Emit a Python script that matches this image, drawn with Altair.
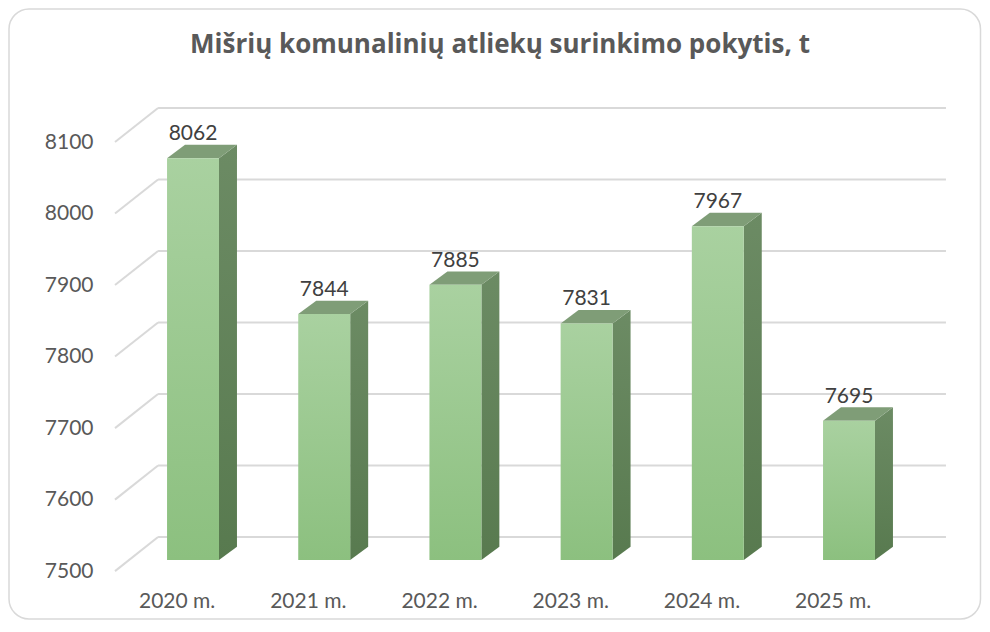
import altair as alt
import pandas as pd

# ---- data ----
years = ["2020 m.", "2021 m.", "2022 m.", "2023 m.", "2024 m.", "2025 m."]
values = [8062, 7844, 7885, 7831, 7967, 7695]
ticks = [7500, 7600, 7700, 7800, 7900, 8000, 8100]
title = "Mišrių komunalinių atliekų surinkimo pokytis, t"

# ---- 3D geometry constants (scale units) ----
BASE = 7500
HALF = 0.198      # half bar width
DX, DY = 0.137, 18.7          # bar depth
FRONT_DX, FRONT_DY = -0.106, -15.4   # front (axis) plane offset
BACK_DX, BACK_DY = 0.222, 32.2       # back wall offset
AXIS_L = -0.5945
WALL_R = 5.739
XDOM = [-0.709, 5.846]
YDOM = [7440, 8170]
FONT = "Lato"

xs = alt.Scale(domain=XDOM, nice=False, zero=False)
ys = alt.Scale(domain=YDOM, nice=False, zero=False)
yax = alt.Axis(values=ticks, format="d", labelOffset=11, ticks=False, domain=False,
               grid=False, labelPadding=7, labelFont=FONT, labelFontSize=21,
               labelColor="#595959", title=None)

n = len(years)
bars = pd.DataFrame({"year": years, "value": values, "i": list(range(n))})
bars["x0"] = bars.i - HALF
bars["x1"] = bars.i + HALF
bars["base"] = BASE
bars["xl"] = bars.i + FRONT_DX - 0.015

side_rows, top_rows = [], []
for i, (yr, v) in enumerate(zip(years, values)):
    side_rows.append({"year": yr, "x": i + HALF, "y": v, "y2": BASE})
    side_rows.append({"year": yr, "x": i + HALF + DX, "y": v + DY, "y2": BASE + DY})
    top_rows.append({"year": yr, "y": v, "x": i - HALF, "x2": i + HALF})
    top_rows.append({"year": yr, "y": v + DY, "x": i - HALF + DX, "x2": i + HALF + DX})
side = pd.DataFrame(side_rows)
top = pd.DataFrame(top_rows)

grid = pd.DataFrame({"t": ticks})
grid["yb"] = grid.t + BACK_DY
grid["yf"] = grid.t + FRONT_DY
grid["xb"] = AXIS_L + (BACK_DX - FRONT_DX)
grid["xf"] = AXIS_L
grid["xr"] = WALL_R

front_grad = alt.LinearGradient(
    gradient="linear", x1=0, x2=0, y1=0, y2=1,
    stops=[alt.GradientStop(color="#a9d1a0", offset=0),
           alt.GradientStop(color="#8cc07f", offset=1)])
side_grad = alt.LinearGradient(
    gradient="linear", x1=0, x2=0, y1=0, y2=1,
    stops=[alt.GradientStop(color="#6c8b64", offset=0),
           alt.GradientStop(color="#587a4f", offset=1)])

border = alt.Chart(pd.DataFrame({"a": [0]})).mark_rect(
    filled=False, stroke="#d9d9d9", strokeWidth=1.5, cornerRadius=20
).encode(x=alt.value(-91), x2=alt.value(880.5), y=alt.value(-72), y2=alt.value(538))

title_mark = alt.Chart(pd.DataFrame({"t": [title]})).mark_text(
    font="Open Sans", fontSize=26, fontWeight="bold", color="#595959",
    align="center", baseline="alphabetic"
).encode(x=alt.value(400), y=alt.value(-28), text="t:N")

back_lines = alt.Chart(grid).mark_rule(color="#d9d9d9", strokeWidth=2).encode(
    x=alt.X("xb:Q", scale=xs, axis=None), x2="xr:Q",
    y=alt.Y("yb:Q", scale=ys, axis=yax))

diag_lines = alt.Chart(grid).mark_rule(color="#d9d9d9", strokeWidth=2).encode(
    x=alt.X("xf:Q", scale=xs, axis=None), x2="xb:Q",
    y=alt.Y("yf:Q", scale=ys, axis=yax), y2="yb:Q")

side_faces = alt.Chart(side).mark_area(color=side_grad).encode(
    x=alt.X("x:Q", scale=xs, axis=None),
    y=alt.Y("y:Q", scale=ys, axis=yax), y2="y2:Q",
    detail="year:N")

top_faces = alt.Chart(top).mark_area(orient="horizontal", color="#7f9d77").encode(
    y=alt.Y("y:Q", scale=ys, axis=yax),
    x=alt.X("x:Q", scale=xs, axis=None), x2="x2:Q",
    detail="year:N")

front_faces = alt.Chart(bars).mark_bar(color=front_grad).encode(
    x=alt.X("x0:Q", scale=xs, axis=None), x2="x1:Q",
    y=alt.Y("value:Q", scale=ys, axis=yax), y2="base:Q")

value_labels = alt.Chart(bars).mark_text(
    font=FONT, fontSize=21, color="#404040", baseline="alphabetic", dy=-18
).encode(x=alt.X("i:Q", scale=xs, axis=None),
         y=alt.Y("value:Q", scale=ys, axis=yax), text="value:Q")

year_labels = alt.Chart(bars).mark_text(
    font=FONT, fontSize=21, color="#595959", baseline="middle", dy=42
).encode(x=alt.X("xl:Q", scale=xs, axis=None),
         y=alt.Y("base:Q", scale=ys, axis=yax), text="year:N")

chart = alt.layer(
    border, title_mark, back_lines, diag_lines, side_faces, top_faces, front_faces,
    value_labels, year_labels
).properties(
    width=860, height=522,
    autosize=alt.AutoSizeParams(type="none"),
    padding={"left": 92, "top": 73, "right": 22, "bottom": 19},
    background="white",
).configure_view(strokeWidth=0)

chart.save("out.html", embed_options={"renderer": "svg", "actions": False})
